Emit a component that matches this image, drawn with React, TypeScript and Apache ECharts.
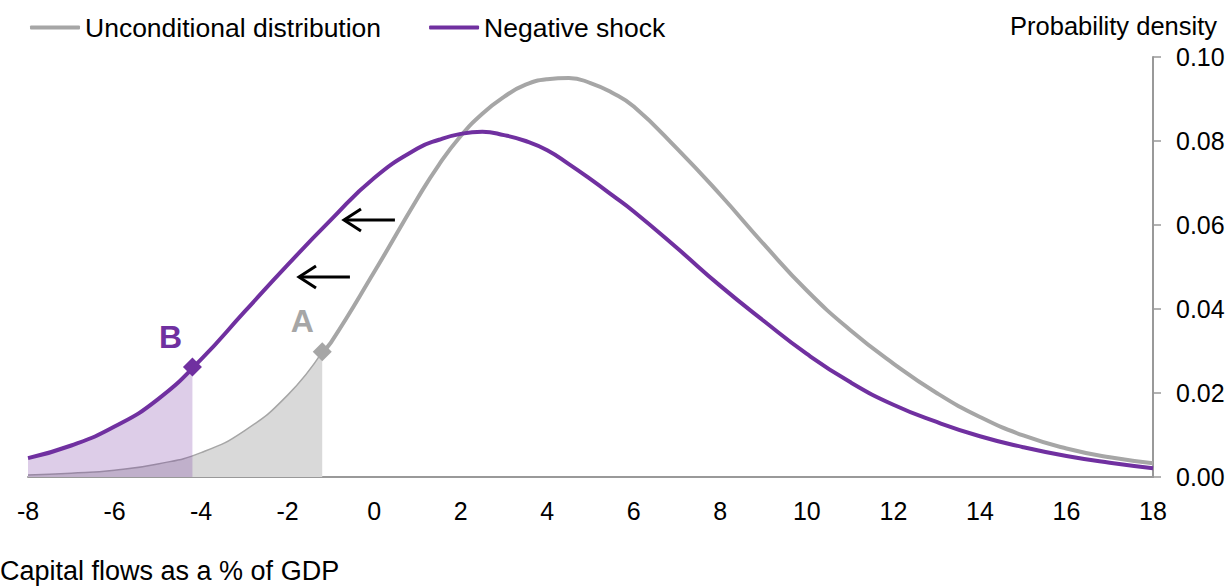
import React, { useEffect, useRef } from "react";
import * as echarts from "echarts";

// x: capital flows as % of GDP, y: probability density
const curveX = [-8, -7, -6, -5, -4, -3, -2, -1, 0, 1, 1.5, 2, 2.5, 3, 3.5, 4, 4.5, 5, 5.5, 6, 7, 8, 9, 10, 11, 12, 13, 14, 15, 16, 17, 18];
const unconditionalY = [0.0005, 0.0009, 0.0016, 0.0031, 0.0058, 0.011, 0.0195, 0.032, 0.0488, 0.0663, 0.0744, 0.0812, 0.0865, 0.0905, 0.0934, 0.0947, 0.095, 0.0938, 0.0915, 0.0882, 0.0782, 0.0672, 0.0555, 0.0444, 0.035, 0.027, 0.02, 0.0143, 0.0099, 0.0068, 0.0047, 0.0033];
const shockY = [0.0045, 0.0075, 0.012, 0.0185, 0.028, 0.0393, 0.0505, 0.0612, 0.0712, 0.0782, 0.0803, 0.0817, 0.0822, 0.0814, 0.08, 0.0778, 0.0745, 0.0709, 0.0671, 0.0632, 0.0545, 0.0455, 0.0372, 0.0293, 0.0226, 0.0172, 0.0131, 0.0097, 0.0071, 0.005, 0.0034, 0.0021];

// marked points: B (negative shock) and A (unconditional)
const markerX = [-4.2, -1.2];
const markerY = [0.0262, 0.0298];
const markerLabels = ["B", "A"];

const arrowStartX = [0.48, -0.56];
const arrowEndX = [-0.72, -1.76];
const arrowY = [0.0612, 0.0476];

const xTickMin = -8;
const xTickMax = 18;
const yTickMax = 0.1;

const legendNames = ["Unconditional distribution", "Negative shock"];

const GRAY = "#a6a6a6";
const PURPLE = "#7030a0";
const FONT = "'Liberation Sans', Arial, sans-serif";

function pairs(xs: number[], ys: number[]) {
  return xs.map((x, i) => [x, ys[i]]);
}

export default function App() {
  const ref = useRef<HTMLDivElement>(null);
  useEffect(() => {
    if (!ref.current) return;
    const chart = echarts.init(ref.current, null, { renderer: "svg" });
    const uncond = pairs(curveX, unconditionalY);
    const shock = pairs(curveX, shockY);
    const ptB = [markerX[0], markerY[0]];
    const ptA = [markerX[1], markerY[1]];
    const uncondArea = uncond.filter((p) => p[0] < ptA[0]).concat([ptA]);
    const shockArea = shock.filter((p) => p[0] < ptB[0]).concat([ptB]);
    const uncondMain = [ptA].concat(uncond.filter((p) => p[0] > ptA[0]));
    const SMOOTH = 0.5;
    const option: any = {
      animation: false,
      textStyle: { fontFamily: FONT },
      grid: { left: 28, right: 78, top: 57, bottom: 109, containLabel: false },
      legend: {
        left: 30,
        top: 14,
        padding: 0,
        itemWidth: 50,
        itemHeight: 4,
        itemGap: 48,
        icon: "roundRect",
        textStyle: { fontSize: 26.5, color: "#000", fontFamily: FONT },
        data: legendNames,
      },
      xAxis: {
        type: "value",
        min: xTickMin,
        max: xTickMax,
        interval: 2,
        axisLine: { show: true, onZero: false, lineStyle: { color: "#999", width: 2 } },
        axisTick: { show: false },
        splitLine: { show: false },
        axisLabel: { fontSize: 25, color: "#000", margin: 21, fontFamily: FONT },
      },
      yAxis: {
        type: "value",
        position: "right",
        min: 0,
        max: yTickMax,
        interval: 0.02,
        axisLine: { show: true, onZero: false, lineStyle: { color: "#999", width: 2 } },
        axisTick: { show: true, length: 8, lineStyle: { color: "#999", width: 1.5 } },
        splitLine: { show: false },
        axisLabel: {
          fontSize: 25,
          color: "#000",
          margin: 23,
          fontFamily: FONT,
          formatter: (v: number) => v.toFixed(2),
        },
      },
      graphic: [
        {
          type: "text",
          right: 14,
          top: 13,
          style: { text: "Probability density", fontSize: 25.5, fill: "#000", fontFamily: FONT },
        },
        {
          type: "text",
          left: 0,
          top: 557,
          style: { text: "Capital flows as a % of GDP", fontSize: 27, fill: "#000", fontFamily: FONT },
        },
      ],
      series: [
        {
          type: "line",
          name: "uncondArea",
          data: uncondArea,
          smooth: SMOOTH,
          symbol: "none",
          lineStyle: { color: GRAY, width: 1.5 },
          areaStyle: { color: "#d9d9d9", opacity: 1 },
          z: 1,
        },
        {
          type: "line",
          name: "shockArea",
          data: shockArea,
          smooth: SMOOTH,
          symbol: "none",
          lineStyle: { width: 0 },
          areaStyle: { color: "rgba(112,48,160,0.24)", opacity: 1 },
          z: 2,
        },
        {
          type: "line",
          name: legendNames[0],
          data: uncondMain,
          smooth: SMOOTH,
          symbol: "none",
          color: GRAY,
          lineStyle: { color: GRAY, width: 4 },
          z: 3,
        },
        {
          type: "line",
          name: legendNames[1],
          data: shock,
          smooth: SMOOTH,
          symbol: "none",
          color: PURPLE,
          lineStyle: { color: PURPLE, width: 4 },
          z: 4,
        },
        {
          type: "scatter",
          symbol: "diamond",
          symbolSize: 19,
          z: 5,
          data: markerX.map((x, i) => ({
            value: [x, markerY[i]],
            itemStyle: { color: i === 0 ? PURPLE : GRAY, opacity: 1 },
            label: {
              show: true,
              formatter: markerLabels[i],
              position: "top",
              distance: 4,
              offset: i === 0 ? [-22, 0] : [-20, -1],
              fontSize: 32,
              fontWeight: "bold",
              fontFamily: FONT,
              color: i === 0 ? PURPLE : GRAY,
            },
          })),
        },
        {
          type: "custom",
          z: 6,
          data: arrowY.map((y, i) => [arrowStartX[i], arrowEndX[i], y]),
          renderItem: (params: any, api: any) => {
            const p1 = api.coord([api.value(0), api.value(2)]);
            const p2 = api.coord([api.value(1), api.value(2)]);
            const style = { stroke: "#000", lineWidth: 3, fill: "none" };
            return {
              type: "group",
              children: [
                { type: "line", shape: { x1: p1[0], y1: p1[1], x2: p2[0] + 1, y2: p2[1] }, style },
                {
                  type: "polyline",
                  shape: { points: [[p2[0] + 18, p2[1] - 11], [p2[0] + 1, p2[1]], [p2[0] + 18, p2[1] + 11]] },
                  style,
                },
              ],
            };
          },
        },
      ],
    };
    chart.setOption(option);
    return () => chart.dispose();
  }, []);
  return (
    <div
      ref={ref}
      style={{ position: "fixed", left: 0, top: 0, width: 1231, height: 586, background: "#fff" }}
    />
  );
}
